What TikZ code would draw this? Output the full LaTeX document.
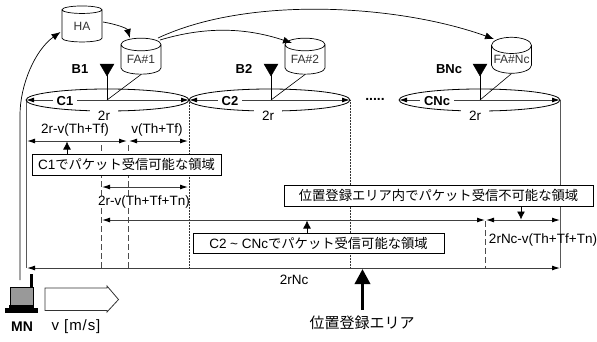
\documentclass[tikz,border=0pt]{standalone}
\usepackage{fontspec}
\setmainfont{Liberation Sans}
\newfontfamily\jpfont{Noto Sans CJK JP}
\usetikzlibrary{shapes.geometric,arrows.meta,calc}
\tikzset{
  db/.style={cylinder,shape border rotate=90,aspect=.45,draw=black,line width=.7pt,minimum width=40pt,minimum height=36pt,inner sep=0pt,font=\fontsize{12}{14}\selectfont,text=black!80,fill=white},
  dim/.style={line width=1pt,draw=black!75,{Latex[length=8pt,width=5pt,black]}-{Latex[length=8pt,width=5pt,black]}},
  oneway/.style={line width=.7pt,-{Latex[length=9pt,width=7pt]}},
  vsolid/.style={line width=1pt,draw=black!65},
  vdot/.style={line width=.5pt,densely dotted,draw=black!80},
  vdash/.style={line width=.8pt,dash pattern=on 6pt off 3pt,draw=black!70},
  cell/.style={line width=.8pt,draw=black},
  lab/.style={font=\fontsize{13.5}{15}\selectfont,inner sep=1pt},
  whitelab/.style={lab,fill=white},
  boldlab/.style={font=\bfseries\fontsize{13}{15}\selectfont,inner sep=2pt},
  cname/.style={boldlab,fill=white,inner xsep=4pt,inner ysep=1pt},
  jpbox/.style={draw=black,line width=.8pt,fill=white,inner sep=0pt,font=\jpfont\fontsize{13.3}{15}\selectfont,anchor=center},
  antenna/.style={fill=black,draw=black},
}
\newcommand{\lat}[1]{{\rmfamily\fontsize{13.5}{15}\selectfont #1}}
\begin{document}
\begin{tikzpicture}[x=1pt,y=-1pt]
\useasboundingbox (0,0) rectangle (597,341);
% coordinates
\coordinate (L) at (26,100); \coordinate (M1) at (189,100); \coordinate (M2) at (350,100);
\coordinate (N0) at (399,100); \coordinate (R) at (560,100);
\coordinate (b1) at (107,100); \coordinate (b2) at (271,100); \coordinate (b3) at (480,100);
% vertical guides
\draw[vsolid] (L) -- (26,268);
\draw[vsolid] (R) -- (560,268);
\draw[vdash] (101,145) -- (101,268);
\draw[vdash] (128,145) -- (128,268);
\draw[vdash] (485.5,221) -- (485.5,268);
% label that hides the dashed guides
\node[lab,fill=white,inner sep=0pt] (t3) at (144,202) {2r-v(Th+Tf+Tn)};
\draw[vdot] (M1) -- (189,268);
\draw[vdot] (M2) -- (350,268);
% cells
\draw[cell] (107.5,100) ellipse [x radius=81.5,y radius=11];
\draw[cell] (269.5,100) ellipse [x radius=80.5,y radius=11];
\draw[cell] (479.5,100) ellipse [x radius=80.5,y radius=11];
% nodes
\node[db] (HA) at (82,26) {HA};
\node[db] (FA1) at (141,59.5) {FA\#1};
\node[db] (FA2) at (305,59.5) {FA\#2};
\node[db] (FA3) at (511.5,59.5) {FA\#Nc};
% backbone arrows
\coordinate (mnTop) at (20,280);
\coordinate (haIn) at (60.5,32);
\draw[line width=.7pt,-{Latex[length=9pt,width=7pt]}] (mnTop) -- (20,115) .. controls (20,85) and (35,50) .. (haIn);
\coordinate (haOut) at (103,22);
\coordinate (fa1In) at (130,38);
\coordinate (fa1a) at (160,40);
\coordinate (fa1b) at (158,38);
\coordinate (fa2In) at (292,43);
\coordinate (fa3In) at (494,39);
\draw[oneway] (haOut) .. controls (115,24) and (127,28) .. (fa1In);
\draw[oneway] (fa1a) .. controls (210,25) and (250,29) .. (fa2In);
\draw[oneway] (fa1b) .. controls (250,-5) and (400,5) .. (fa3In);
% antennas
\foreach \bx in {b1,b2,b3}{
  \draw[line width=.8pt] (\bx) -- ++(0,-30);
  \fill[antenna] ($(\bx)+(-7,-36)$) -- ($(\bx)+(7,-36)$) -- ($(\bx)+(0,-24)$) -- cycle;
}
\draw[line width=.6pt] (b1) -- (FA1.south);
\draw[line width=.6pt] (b2) -- (FA2.south);
\draw[line width=.6pt] (b3) -- (FA3.south);
\node[boldlab] (B1) at (80,69) {B1};
\node[boldlab] (B2) at (244,69) {B2};
\node[boldlab] (B3) at (449,69) {BNc};
% cell diameters
\draw[dim] (L) -- (M1);
\draw[dim] (M1) -- (M2);
\draw[dim] (N0) -- (R);
\node[cname] (C1) at (65,101) {C1};
\node[cname] (C2) at (230,101) {C2};
\node[cname] (C3) at (437,101) {CNc};
\node[whitelab,inner xsep=8pt] (d1) at (104,116) {2r};
\node[whitelab,inner xsep=8pt] (d2) at (268,116) {2r};
\node[whitelab,inner xsep=8pt] (d3) at (475,116) {2r};
\node[font=\bfseries\fontsize{14}{14}\selectfont,inner sep=0pt] (dots) at (375,99) {.....};
% dimension lines
\coordinate (a1) at (27,141); \coordinate (a2) at (127,141); \coordinate (a3) at (129,141); \coordinate (a4) at (188,141);
\draw[dim] (a1) -- (a2);
\draw[dim] (a3) -- (a4);
\node[lab] (t1) at (75,130) {2r-v(Th+Tf)};
\node[lab] (t2) at (157,130) {v(Th+Tf)};
\coordinate (e1) at (102,187); \coordinate (e2) at (188,187);
\draw[dim] (e1) -- (e2);
\coordinate (f1) at (102,220); \coordinate (f2) at (485,220); \coordinate (f3) at (486,220); \coordinate (f4) at (560,220);
\draw[dim] (f1) -- (f2);
\draw[dim] (f3) -- (f4);
\node[lab] (t4) at (543,240) {2rNc-v(Th+Tf+Tn)};
\coordinate (g1) at (27,268); \coordinate (g2) at (560,268);
\draw[dim] (g1) -- (g2);
\node[lab] (t5) at (294,280) {2rNc};
% boxes
\node[jpbox,minimum width=189pt,minimum height=21pt] (bx1) at (126.5,164.5) {\lat{C1}でパケット受信可能な領域};
\node[jpbox,minimum width=251pt,minimum height=20pt] (bx2) at (318.5,243) {\lat{C2 \char`\~\ CNc}でパケット受信可能な領域};
\node[jpbox,minimum width=309pt,minimum height=21pt] (bx3) at (438.5,195.5) {位置登録エリア内でパケット受信不可能な領域};
% box pointers
\coordinate (p1) at (67,141.5); \coordinate (p2) at (307,220.5); \coordinate (p3) at (521,219.5);
\draw[line width=.8pt,-{Latex[length=8pt,width=8pt]}] (bx1.north -| p1) -- (p1);
\draw[line width=.8pt,-{Latex[length=8pt,width=8pt]}] (bx2.north -| p2) -- (p2);
\draw[line width=.8pt,-{Latex[length=8pt,width=8pt]}] (bx3.south -| p3) -- (p3);
% area arrow
\node[font=\jpfont\fontsize{15}{17}\selectfont,inner sep=0pt] (area) at (362,323) {位置登録エリア};
\coordinate (q) at (362.5,269);
\draw[line width=3.4pt,-{Triangle[length=15pt,width=15pt]}] (362.5,310) -- (q);
% MN
\draw[line width=2.8pt] (31.5,274) -- (31.5,290);
\draw[line width=1pt,fill=black!40] (10.5,287) rectangle (33,305);
\fill[black] (9,305) rectangle (34,308);
\fill[black] (4.5,308) -- (38,308) -- (38,312.5) -- (4.5,312.5) -- cycle;
\node[font=\bfseries\fontsize{14}{14}\selectfont,inner sep=0pt] (MN) at (22,327) {MN};
\draw[line width=.8pt,draw=black!80] (45,288) -- (107,288) -- (107,286) -- (118.5,299.5) -- (107,312) -- (107,310.5) -- (45,310.5) -- cycle;
\node[font=\fontsize{15}{16}\selectfont\addfontfeature{LetterSpace=6},inner sep=0pt] (v) at (76,327) {v [m/s]};
\end{tikzpicture}
\end{document}
